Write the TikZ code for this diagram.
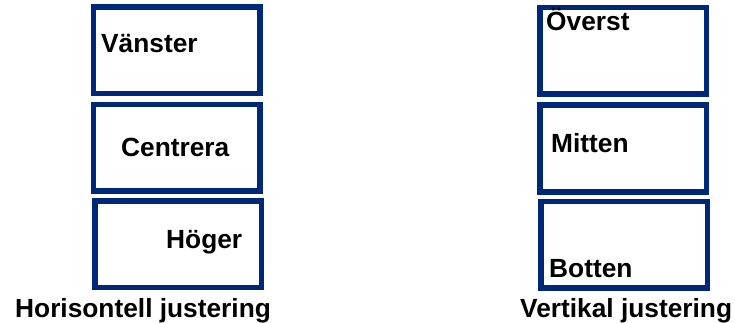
\documentclass[tikz,border=0pt]{standalone}
\usepackage{fontspec}
\setmainfont{Liberation Sans}
\definecolor{boxblue}{RGB}{0,40,120}
\begin{document}
\begin{tikzpicture}[x=1pt,y=-1pt,
  box/.style={draw=boxblue, line width=5.5pt, rectangle, inner sep=0pt, minimum width=166.5pt, minimum height=86.5pt},
  lbl/.style={anchor=base west, inner sep=0pt, font=\fontsize{26.3}{31}\selectfont\bfseries, text=black}]
\useasboundingbox (0,0) rectangle (735,323);
% left column
\node[box] (l1) at (176.75,50.25) {};
\node[box] (l2) at (176.75,147.75) {};
\node[box] (l3) at (178.25,244.25) {};
\node[lbl] (tl1) at (101,53) {Vänster};
\node[lbl] (tl2) at (121,157) {Centrera};
\node[lbl] (tl3) at (166,248) {Höger};
\node[lbl] (cl) at (15,317) {Horisontell justering};
% right column
\node[box] (r1) at (623.25,50.75) {};
\node[box] (r2) at (623.25,148.5) {};
\node[box] (r3) at (624.25,244.75) {};
\node[lbl] (tr1) at (546,31) {Överst};
\node[lbl] (tr2) at (551,153) {Mitten};
\node[lbl] (tr3) at (549,277) {Botten};
\node[lbl] (cr) at (520,317) {Vertikal justering};
\end{tikzpicture}
\end{document}
